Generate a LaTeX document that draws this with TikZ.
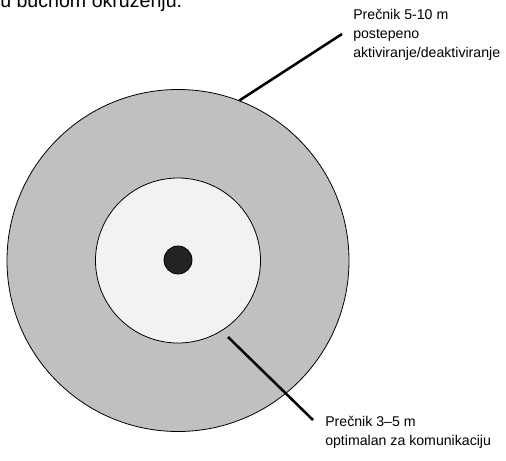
\documentclass[tikz,border=0pt]{standalone}
\usepackage{fontspec}
\setmainfont{Liberation Sans}
\usetikzlibrary{positioning}
\definecolor{zonegray}{HTML}{C0C0C0}
\definecolor{corewhite}{HTML}{F2F2F2}
\definecolor{nodedark}{HTML}{232323}
\tikzset{
  zone/.style={circle, draw=black, line width=0.6pt, inner sep=0pt},
  leader/.style={line width=1.9pt},
  lbl/.style={anchor=north west, inner sep=0pt, align=left, font=\fontsize{10.6}{14.2}\selectfont}
}

\begin{document}
\begin{tikzpicture}[x=0.75pt, y=-0.75pt]
\clip (0,0) rectangle (506,460);
% caption line cut off at the top
\node[anchor=base west, inner sep=0pt, font=\fontsize{14.7}{17}\selectfont] (caption) at (0,8) {u bučnom okruženju.};

% outer zone: 5-10 m
\node[zone, fill=zonegray, minimum size=256.5pt] (outer) at (178,260.5) {};
% inner zone: 3-5 m
\node[zone, fill=corewhite, minimum size=123.75pt] (inner) at (178,260.5) {};
% the device
\node[zone, fill=nodedark, minimum size=21pt] (device) at (178,260) {};

% labels
\node[lbl] (lbl5) at (353,9) {Prečnik 5-10 m\\postepeno\\aktiviranje/deaktiviranje};
\node[lbl] (lbl3) at (325,416) {Prečnik 3–5 m\\optimalan za komunikaciju};

% leaders
\coordinate (tip5) at (342,34);
\coordinate (gap3) at (228,337);
\coordinate (tip3) at (313,420);
\draw[leader] (outer.69) -- (tip5);
\draw[leader] (gap3) -- (tip3);
\end{tikzpicture}
\end{document}
